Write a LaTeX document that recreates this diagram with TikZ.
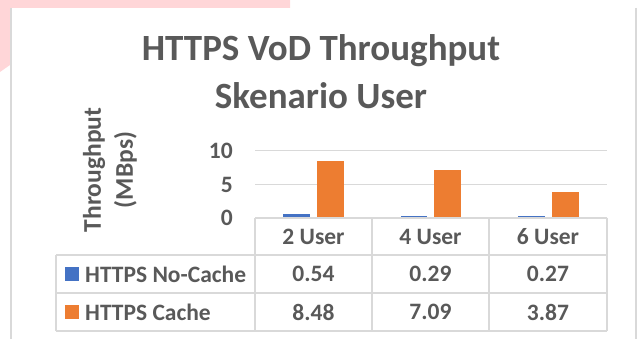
\documentclass[tikz,border=0pt]{standalone}
\usepackage{fontspec}
\setmainfont{Carlito}
\definecolor{txtgray}{HTML}{595959}
\definecolor{gridgray}{HTML}{D9D9D9}
\definecolor{barblue}{HTML}{4472C4}
\definecolor{barorange}{HTML}{ED7D31}
\definecolor{pinkbg}{HTML}{FFD6D8}

\begin{document}
\begin{tikzpicture} [x = 1pt, y = -1pt,
  lbl/.style = {text = txtgray, inner sep = 0, font = \bfseries\fontsize{23.5}{28}\selectfont},
  tline/.style = {draw = gridgray, line width = 1.2},
  gridline/.style = {draw = gridgray, line width = 1.0}]
\useasboundingbox (0, 0) rectangle (638, 339);
% background and frame
\fill[pinkbg] (0, 0) -- (290, 0) -- (290, 8) -- (10, 8) -- (10, 65) -- (0, 72) -- cycle;
\draw[gridgray, line width = 1.5] (11, 8) -- (11, 339);
\draw[gridgray, line width = 1.5] (636, 8) -- (636, 339);
% titles
\node[lbl, anchor = base, font = \bfseries\fontsize{37}{46}\selectfont] (title1) at (321, 61){HTTPS VoD Throughput};
\node[lbl, anchor = base, font = \bfseries\fontsize{37}{46}\selectfont] (title2) at (321, 109){Skenario User};
\node[lbl, rotate = 90, align = center, font = \bfseries\fontsize{25.5}{32}\selectfont] (ytitle) at (110, 170){Throughput\\(MBps)};
% axis
\node[lbl, anchor = east] (tick10) at (233, 151){10};
\node[lbl, anchor = east] (tick5) at (233, 184.5){5};
\node[lbl, anchor = east] (tick0) at (233, 218){0};
\draw[gridline] (255, 151) -- (607, 151);
\draw[gridline] (255, 184.5) -- (607, 184.5);
% bars
\fill[barblue] (283, 218) rectangle (310, 214.4);
\fill[barorange] (317, 218) rectangle (343.5, 161.2);
\fill[barblue] (401, 218) rectangle (427, 216.1);
\fill[barorange] (434, 218) rectangle (461, 170.5);
\fill[barblue] (518, 218) rectangle (545, 216.2);
\fill[barorange] (552, 218) rectangle (578.5, 192.1);
% data table
\draw[tline] (255, 218) -- (607, 218);
\draw[tline] (56, 255) -- (607, 255);
\draw[tline] (56, 293) -- (607, 293);
\draw[tline] (56, 331) -- (607, 331);
\draw[tline] (56, 255) -- (56, 331);
\draw[tline] (255, 218) -- (255, 331);
\draw[tline] (372, 218) -- (372, 331);
\draw[tline] (489, 218) -- (489, 331);
\draw[tline] (607, 218) -- (607, 331);
\node[lbl] (head2) at (313.5, 236.5){2 User};
\node[lbl] (head4) at (430.5, 236.5){4 User};
\node[lbl] (head6) at (548, 236.5){6 User};
\fill[barblue] (65, 267) rectangle (79, 281);
\fill[barorange] (65, 305.5) rectangle (79, 319.5);
\node[lbl, anchor = west] (leg1) at (85, 274){HTTPS No-Cache};
\node[lbl, anchor = west] (leg2) at (85, 312){HTTPS Cache};
\node[lbl] (nc2) at (313.5, 274){0.54};
\node[lbl] (nc4) at (430.5, 274){0.29};
\node[lbl] (nc6) at (548, 274){0.27};
\node[lbl] (ca2) at (313.5, 312){8.48};
\node[lbl] (ca4) at (430.5, 312){7.09};
\node[lbl] (ca6) at (548, 312){3.87};
\end{tikzpicture}
\end{document}
